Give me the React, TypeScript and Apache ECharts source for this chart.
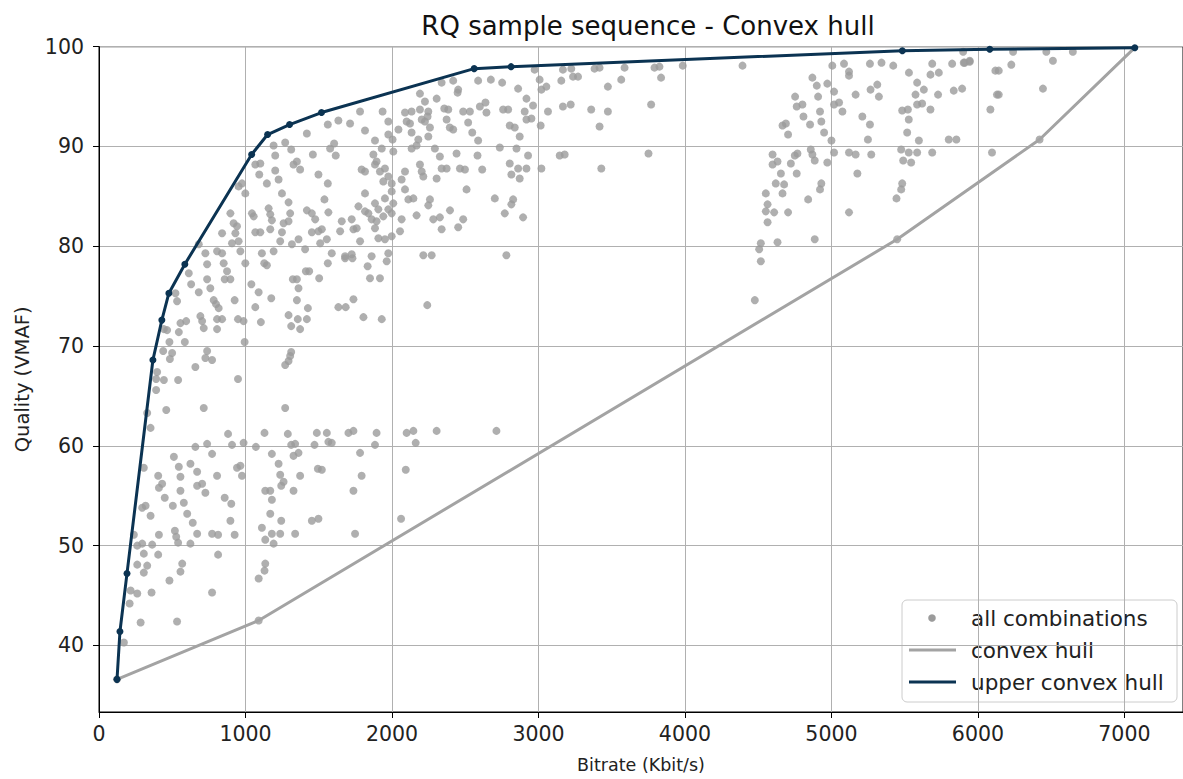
import React, { useEffect, useRef } from "react";
import * as echarts from "echarts";

const xTicks = [0, 1000, 2000, 3000, 4000, 5000, 6000, 7000];
const yTicks = [40, 50, 60, 70, 80, 90, 100];

const upperHull = [
  [123, 36.6], [143, 41.4], [191, 47.2], [368, 68.6], [429, 72.6], [477, 75.3], [586, 78.2],
  [1042, 89.2], [1151, 91.2], [1301, 92.2], [1519, 93.4], [2561, 97.8], [2813, 98.0],
  [5484, 99.6], [6081, 99.75], [7071, 99.9],
];

const lowerHull = [
  [123, 36.6], [1090, 42.5], [5449, 80.7], [6421, 90.7], [7071, 99.9],
];

const cloudA = [
  [1782,93.5],[1936,93.5],[1634,92.6],[1714,92.3],[1562,92.2],[1419,91.3],[1975,92.5],[1816,91.6],[1975,91.2],[1884,90.6],[2004,90.7],[1192,90.1],[1271,90.4],[1312,89.7],[1203,89.1],[1460,89.2],[1578,89.8],[1605,90.3],[1616,89.1],[1930,89.8],[1873,89.2],[2009,89.5],[1067,88.2],[1101,88.3],[1094,87.2],[1203,87.6],[1328,88.2],[1351,88.5],[1373,87.7],[1498,87.2],[1562,86.3],[1816,87.5],[1793,87.7],[1884,88.2],[1918,87.5],[1895,88.5],[1952,87.8],[1975,87.0],[1941,86.5],[1998,86.3],[976,86.3],[953,86.0],[999,85.3],[1146,86.3],[1226,86.7],[1249,85.3],[1294,84.4],[1539,84.7],[1816,85.3],[1952,84.8],[1998,85.5],[2009,84.3],[1884,84.3],[1975,83.7],[897,83.3],[1044,83.3],[1056,83.0],[1158,83.8],[1169,83.2],[1180,82.6],[1260,82.3],[1305,83.3],[1294,82.5],[1419,83.6],[1453,83.3],[1476,82.7],[1566,83.4],[1657,82.5],[1725,82.7],[1771,84.0],[1816,83.5],[1839,83.3],[1861,82.7],[1895,82.5],[1907,83.7],[1941,83.0],[1998,83.3],[919,82.3],[942,82.0],[931,81.3],[840,81.3],[1067,81.4],[1101,81.4],[1169,81.7],[1249,81.4],[1362,80.7],[1453,81.4],[1498,81.5],[1521,81.7],[1646,81.5],[1737,81.7],[1759,81.8],[1782,80.5],[1884,81.8],[1907,80.8],[1952,80.7],[1998,81.0],[681,80.2],[726,79.3],[806,79.5],[840,79.3],[908,80.3],[953,80.5],[965,79.5],[1112,79.3],[1192,79.5],[1237,80.5],[1317,80.2],[1407,79.7],[1510,80.3],[1555,80.7],[1589,79.3],[1680,79.0],[1725,79.2],[1861,79.0],[1975,79.3],
];

const cloudB = [
  [2339,96.4],[2418,96.6],[2452,95.7],[2448,95.4],[2191,95.3],[2225,94.5],[2305,94.8],[2588,96.6],[2675,96.7],[2752,96.4],[2861,95.8],[2918,94.8],[2963,94.1],[2906,93.5],[2918,92.7],[2952,92.8],[2793,93.7],[2759,93.7],[2638,94.4],[2600,94.0],[2645,93.4],[2486,93.5],[2532,93.5],[2520,92.4],[2548,91.4],[2588,90.6],[2357,93.8],[2384,93.7],[2373,92.7],[2395,91.9],[2418,91.7],[2248,93.5],[2243,93.0],[2225,92.5],[2203,92.7],[2191,93.7],[2134,93.5],[2089,93.4],[2100,92.5],[2123,92.3],[2134,91.4],[2044,91.7],[2259,91.9],[2248,91.0],[2180,90.7],[2168,90.1],[2134,89.8],[2293,89.8],[2327,89.0],[2441,89.3],[2584,89.1],[2736,89.9],[2850,89.8],[2929,89.1],[2804,92.1],[2838,91.9],[2872,91.0],[2804,88.3],[2861,87.8],[2918,87.8],[2815,87.2],[2872,86.8],[2616,87.7],[2498,87.7],[2464,87.8],[2373,87.8],[2339,87.8],[2305,86.8],[2191,88.2],[2203,87.5],[2214,87.0],[2089,87.5],[2066,86.7],[2089,85.7],[2112,84.7],[2146,84.8],[2259,84.7],[2248,84.1],[2509,85.7],[2702,84.8],[2827,84.7],[2815,84.2],[2770,83.3],[2895,82.9],[2396,83.6],[2486,82.7],[2452,81.9],[2339,81.7],[2327,82.9],[2282,82.7],[2168,83.1],[2066,82.7],[2055,81.5],[2214,79.1],[2271,79.1],[2781,79.1],[2974,97.7],[3008,96.7],[3020,95.7],[3054,96.0],[3015,92.1],[3065,93.5],[3020,87.8],[3156,96.6],[3167,97.7],[3224,97.8],[3236,97.0],[3270,97.0],[3383,97.8],[3417,97.9],[3474,96.0],[3565,96.7],[3588,97.9],[3792,97.9],[3826,98.0],[3837,96.9],[3985,98.1],[3167,94.0],[3220,94.2],[3360,93.7],[3474,93.5],[3417,92.0],[3769,94.2],[3145,89.1],[3179,89.2],[3429,87.8],[3751,89.3],
];

const cloudC = [
  [4393,98.1],[5006,98.1],[5086,98.3],[5120,97.5],[5120,97.1],[5263,98.3],[5342,98.4],[5422,98.1],[5529,97.4],[5585,96.4],[5631,95.7],[5676,97.2],[5688,98.3],[5733,97.4],[5676,93.7],[5585,94.2],[5619,94.3],[5574,95.2],[5313,96.2],[5267,95.7],[5324,95.0],[5165,95.2],[4972,96.3],[4870,96.9],[4900,96.1],[4909,95.0],[5018,95.5],[5018,94.2],[5052,94.4],[5075,93.5],[4752,95.0],[4763,94.0],[4802,94.2],[4809,93.0],[4854,92.2],[4922,93.5],[4931,92.5],[4950,91.4],[5000,90.6],[4666,92.1],[4689,92.3],[4704,91.2],[5211,93.0],[5263,92.2],[5249,90.7],[5483,93.6],[5522,93.7],[5528,92.7],[5517,91.4],[5597,90.6],[5801,90.7],[5853,90.7],[5835,95.6],[5892,95.8],[5728,95.2],[5824,98.3],[5903,98.4],[5944,98.5],[6119,97.6],[6085,93.7],[6130,95.2],[4598,89.2],[4632,88.5],[4598,88.2],[4723,88.3],[4750,89.1],[4768,89.3],[4859,89.7],[4870,89.2],[4886,88.6],[4972,88.4],[5018,89.4],[5120,89.4],[5165,89.2],[5272,89.2],[5476,89.7],[5490,88.6],[5528,89.4],[5585,89.4],[5544,88.4],[5688,89.4],[6096,89.4],[4655,87.3],[4763,87.3],[5177,87.3],[4620,86.3],[4677,86.2],[4666,85.3],[4931,86.3],[4922,85.7],[5483,86.3],[5476,85.7],[5444,84.8],[4552,85.3],[4564,84.2],[4552,83.5],[4609,83.4],[4564,82.4],[4704,83.4],[4841,84.7],[5120,83.4],[4518,80.3],[4507,79.7],[4632,80.4],[4886,80.7],[5449,80.7],[5899,99.5],[5910,98.4],[5944,98.6],[6240,99.5],[6228,98.2],[6142,97.6],[6142,95.2],[6444,95.8],[6512,98.6],[6467,99.5],[6648,99.5],[6421,90.7],[4518,78.5],[4477,74.6],
];

const cloudD = [
  [738,78.2],[613,77.3],[738,76.7],[760,75.8],[681,75.4],[629,76.2],[522,75.3],[533,74.5],[556,72.3],[595,72.5],[545,71.4],[481,70.4],[586,70.4],[443,71.7],[465,71.6],[692,73.0],[704,72.5],[715,71.8],[806,72.7],[840,72.7],[806,71.7],[783,74.6],[799,74.2],[817,73.8],[926,74.6],[949,72.7],[987,72.5],[994,70.4],[874,77.5],[858,76.7],[897,76.7],[851,78.3],[999,78.3],[1040,76.2],[1090,75.4],[1067,73.9],[1105,72.4],[1176,74.8],[1128,78.3],[1146,78.1],[1294,73.1],[1312,72.0],[1323,76.7],[1351,76.7],[1362,75.8],[1351,74.6],[1373,71.7],[1419,72.7],[1357,72.7],[1426,73.8],[1412,77.5],[1435,77.5],[1503,76.8],[1562,78.3],[1634,73.9],[1684,73.9],[1737,74.7],[1805,72.9],[1930,72.7],[1850,76.8],[1918,76.8],[1834,78.0],[1964,78.5],[1680,78.8],[1730,78.8],[438,69.5],[499,69.3],[484,68.7],[738,69.5],[726,68.8],[772,68.6],[658,67.9],[397,67.4],[390,66.7],[443,66.6],[540,66.6],[390,65.6],[949,66.7],[1312,69.4],[1305,69.0],[1294,68.5],[1271,68.1],[715,63.8],[1271,63.8],[459,63.6],[329,63.3],[352,61.8],[881,61.2],[987,60.3],[1071,59.9],[1130,61.3],[1180,59.2],[1289,61.2],[1312,60.1],[1339,60.2],[1328,59.0],[1362,59.3],[1471,60.1],[1487,61.3],[1555,61.3],[1566,60.4],[1589,60.3],[1703,61.3],[1737,61.5],[1782,59.3],[1884,60.1],[1895,61.3],[658,59.9],[738,60.2],[772,59.2],[908,60.1],[511,58.9],[545,57.9],[624,58.2],[670,57.4],[806,57.0],[942,57.8],[965,58.0],[976,57.0],[1226,58.2],[1237,57.1],[1373,57.0],[1494,57.7],[1521,57.6],[1793,57.0],[404,57.0],[556,56.9],[306,57.8],[2241,74.1],[2100,61.3],[2146,61.5],[2162,60.3],[2305,61.5],[2713,61.5],[2094,57.6],
];

const cloudE = [
  [431,56.2],[409,55.8],[556,55.5],[670,56.0],[704,56.2],[726,55.3],[449,54.8],[504,54.0],[579,54.3],[318,54.0],[295,53.8],[352,53.0],[602,53.2],[640,52.3],[858,54.8],[903,54.2],[897,52.5],[926,51.1],[670,51.2],[772,51.2],[813,51.1],[518,51.5],[527,50.9],[540,50.3],[624,50.2],[409,51.1],[363,50.1],[295,50.2],[261,50.0],[238,51.1],[306,49.2],[404,49.1],[261,48.1],[329,48.0],[306,47.3],[568,48.2],[556,47.4],[481,46.5],[772,45.3],[359,45.3],[261,45.2],[216,45.5],[209,44.2],[284,42.3],[533,42.4],[170,40.3],[813,49.1],[1135,55.5],[1169,55.5],[1180,54.6],[1244,56.0],[1260,56.4],[1328,55.5],[1169,53.2],[1244,52.5],[1112,51.8],[1180,51.2],[1237,51.2],[1135,50.6],[1192,50.2],[1339,51.2],[1453,52.5],[1498,52.7],[1737,55.5],[1748,51.2],[1135,48.2],[1130,47.5],[1090,46.7],[1090,42.5],[123,36.6],[2062,52.7],
];

const FONT = "DejaVu Sans";
const NAVY = "#0b3352";
const GREY = "#9b9b9b";

export default function App() {
  const ref = useRef<HTMLDivElement>(null);
  useEffect(() => {
    if (!ref.current) return;
    const chart = echarts.init(ref.current, undefined, { renderer: "svg" });
    const allPoints = [...cloudA, ...cloudB, ...cloudC, ...cloudD, ...cloudE];
    const axisCommon = {
      type: "value" as const,
      axisLine: { show: true, onZero: false, lineStyle: { color: "#000", width: 1 } },
      splitLine: { show: true, lineStyle: { color: "#b0b0b0", width: 1 } },
    };
    const plain = (v: number) => String(v);
    chart.setOption({
      animation: false,
      backgroundColor: "#ffffff",
      title: {
        text: "RQ sample sequence - Convex hull",
        left: 643,
        top: 8,
        textAlign: "center",
        textStyle: { fontFamily: FONT, fontSize: 26, fontWeight: "normal", color: "#111" },
      },
      grid: {
        left: 99,
        top: 46.7,
        width: 1086.3,
        height: 666.6,
        show: true,
        borderColor: "#000",
        borderWidth: 1,
        backgroundColor: "transparent",
      },
      xAxis: {
        ...axisCommon,
        min: 0,
        max: 7400,
        name: "Bitrate (Kbit/s)",
        nameLocation: "middle",
        nameGap: 44,
        nameTextStyle: { fontFamily: FONT, fontSize: 17.5, color: "#222" },
        axisTick: { show: true, length: 6, inside: false, customValues: xTicks, lineStyle: { color: "#000" } },
        axisLabel: { customValues: xTicks, formatter: plain, margin: 11, fontFamily: FONT, fontSize: 20.5, color: "#222" },
      },
      yAxis: {
        ...axisCommon,
        min: 33.33,
        max: 100,
        name: "Quality (VMAF)",
        nameLocation: "middle",
        nameGap: 67,
        nameTextStyle: { fontFamily: FONT, fontSize: 19.5, color: "#222" },
        axisTick: { show: true, length: 6, inside: false, customValues: yTicks, lineStyle: { color: "#000" } },
        axisLabel: { customValues: yTicks, formatter: plain, margin: 15, fontFamily: FONT, fontSize: 20.5, color: "#222" },
      },
      series: [
        {
          name: "all combinations",
          type: "scatter",
          data: allPoints,
          symbol: "circle",
          symbolSize: 8,
          itemStyle: { color: GREY },
          z: 2,
        },
        {
          name: "convex hull",
          type: "line",
          data: lowerHull,
          showSymbol: false,
          symbol: "none",
          lineStyle: { color: "#a3a3a3", width: 3 },
          z: 3,
        },
        {
          name: "upper convex hull",
          type: "line",
          data: upperHull,
          symbol: "circle",
          symbolSize: 7,
          showSymbol: true,
          itemStyle: { color: NAVY },
          lineStyle: { color: NAVY, width: 3 },
          z: 4,
        },
      ],
      graphic: [
        {
          type: "group",
          z: 100,
          children: [
            {
              type: "rect",
              shape: { x: 902, y: 600, width: 275, height: 102, r: 5 },
              style: { fill: "rgba(255,255,255,0.8)", stroke: "#cccccc", lineWidth: 1 },
            },
            { type: "circle", shape: { cx: 932, cy: 618, r: 3.8 }, style: { fill: GREY } },
            { type: "line", shape: { x1: 909, y1: 650, x2: 956, y2: 650 }, style: { stroke: "#a3a3a3", lineWidth: 3 } },
            { type: "line", shape: { x1: 909, y1: 682, x2: 956, y2: 682 }, style: { stroke: NAVY, lineWidth: 3 } },
            { type: "text", x: 971, y: 618, style: { text: "all combinations", fontFamily: FONT, fontSize: 21.5, fill: "#222", verticalAlign: "middle" } },
            { type: "text", x: 971, y: 650, style: { text: "convex hull", fontFamily: FONT, fontSize: 21.5, fill: "#222", verticalAlign: "middle" } },
            { type: "text", x: 971, y: 682, style: { text: "upper convex hull", fontFamily: FONT, fontSize: 21.5, fill: "#222", verticalAlign: "middle" } },
          ],
        },
      ],
    });
    return () => chart.dispose();
  }, []);
  return (
    <div
      ref={ref}
      style={{ position: "fixed", left: 0, top: 0, width: 1183, height: 779, background: "#fff" }}
    />
  );
}
